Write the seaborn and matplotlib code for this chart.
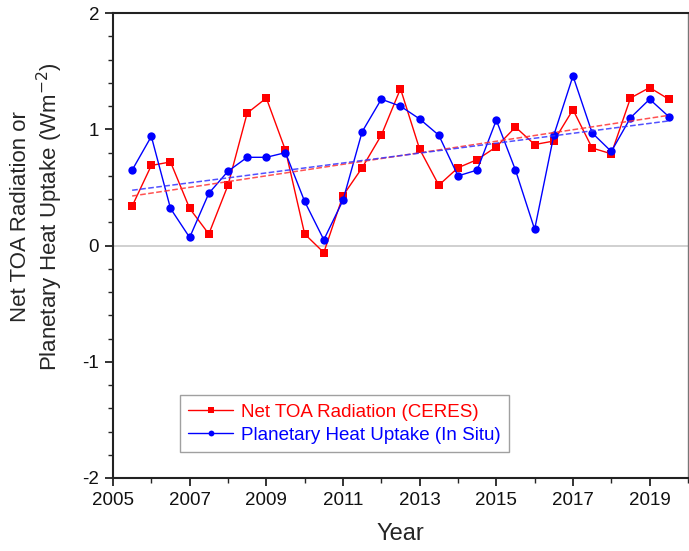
"""Net TOA radiation (CERES) vs planetary heat uptake (in situ), semiannual series."""

import numpy as np
import pandas as pd
import matplotlib

matplotlib.use("Agg")
import matplotlib.pyplot as plt
from matplotlib.ticker import MultipleLocator
import seaborn as sns

years = [2005.5, 2006.0, 2006.5, 2007.0, 2007.5, 2008.0, 2008.5, 2009.0, 2009.5, 2010.0,
         2010.5, 2011.0, 2011.5, 2012.0, 2012.5, 2013.0, 2013.5, 2014.0, 2014.5, 2015.0,
         2015.5, 2016.0, 2016.5, 2017.0, 2017.5, 2018.0, 2018.5, 2019.0, 2019.5]
ceres = [0.34, 0.69, 0.72, 0.32, 0.10, 0.52, 1.14, 1.27, 0.82, 0.10,
         -0.06, 0.43, 0.67, 0.95, 1.35, 0.83, 0.52, 0.67, 0.74, 0.85,
         1.02, 0.87, 0.90, 1.17, 0.84, 0.79, 1.27, 1.36, 1.26]
in_situ = [0.65, 0.94, 0.32, 0.07, 0.45, 0.64, 0.76, 0.76, 0.80, 0.38,
           0.05, 0.39, 0.98, 1.26, 1.20, 1.09, 0.95, 0.60, 0.65, 1.08,
           0.65, 0.14, 0.95, 1.46, 0.97, 0.81, 1.10, 1.26, 1.11]
xticks = [2005, 2007, 2009, 2011, 2013, 2015, 2017, 2019]

label_ceres = "Net TOA Radiation (CERES)"
label_situ = "Planetary Heat Uptake (In Situ)"

df = pd.DataFrame({"year": years, "ceres": ceres, "in_situ": in_situ})

sns.set_style("ticks")
plt.rcParams["font.family"] = ["Liberation Sans", "DejaVu Sans"]
plt.rcParams["axes.unicode_minus"] = False

fig = plt.figure(figsize=(6.89, 5.51), dpi=100)
ax = fig.add_axes([0.164, 0.1325, 0.8345, 0.8435])

ax.axhline(0, color="#c8c8c8", linewidth=1.2, zorder=0)

sns.lineplot(data=df, x="year", y="ceres", ax=ax, color="#ff0000", linewidth=1.0,
             marker="s", markersize=5.5, markeredgewidth=0, label=label_ceres)
sns.lineplot(data=df, x="year", y="in_situ", ax=ax, color="#0000ff", linewidth=1.0,
             marker="o", markersize=6, markeredgewidth=0, label=label_situ)

# linear trends
sns.regplot(data=df, x="year", y="ceres", ax=ax, scatter=False, ci=None, truncate=True,
            line_kws={"color": "#ff3333", "linestyle": "--", "linewidth": 1.1, "alpha": 0.85})
sns.regplot(data=df, x="year", y="in_situ", ax=ax, scatter=False, ci=None, truncate=True,
            line_kws={"color": "#3333ff", "linestyle": "--", "linewidth": 1.1, "alpha": 0.85})

ax.set_xlim(2005, 2020)
ax.set_ylim(-2, 2)
ax.set_xticks(xticks)
ax.xaxis.set_minor_locator(MultipleLocator(1))
ax.yaxis.set_major_locator(MultipleLocator(1))
ax.yaxis.set_minor_locator(MultipleLocator(0.2))
ax.tick_params(which="major", direction="out", length=6, width=1.2, labelsize=13.5,
               colors="#111111", pad=4)
ax.tick_params(which="minor", direction="out", length=3.5, width=1.0)

ax.set_xlabel("Year", fontsize=17, labelpad=10)
ax.set_ylabel("Net TOA Radiation or\nPlanetary Heat Uptake (Wm$^{-2}$)", fontsize=16)
ax.yaxis.set_label_coords(-0.083, 0.563)

for side in ["left", "bottom", "top"]:
    ax.spines[side].set_color("#222222")
    ax.spines[side].set_linewidth(1.5)
ax.spines["right"].set_color("#777777")
ax.spines["right"].set_linewidth(1.0)

handles, labels = ax.get_legend_handles_labels()
leg = ax.legend(handles[:2], labels[:2], loc="lower center", bbox_to_anchor=(0.402, 0.056),
                fontsize=13.5, frameon=True, fancybox=False, edgecolor="#888888",
                handlelength=2.4, borderpad=0.45, labelspacing=0.3, handletextpad=0.4,
                borderaxespad=0, markerscale=0.7)
leg.get_frame().set_linewidth(1.0)
for txt, col in zip(leg.get_texts(), ["#ff0000", "#0000ff"]):
    txt.set_color(col)

fig.savefig("out.png", dpi=100)
plt.close(fig)
